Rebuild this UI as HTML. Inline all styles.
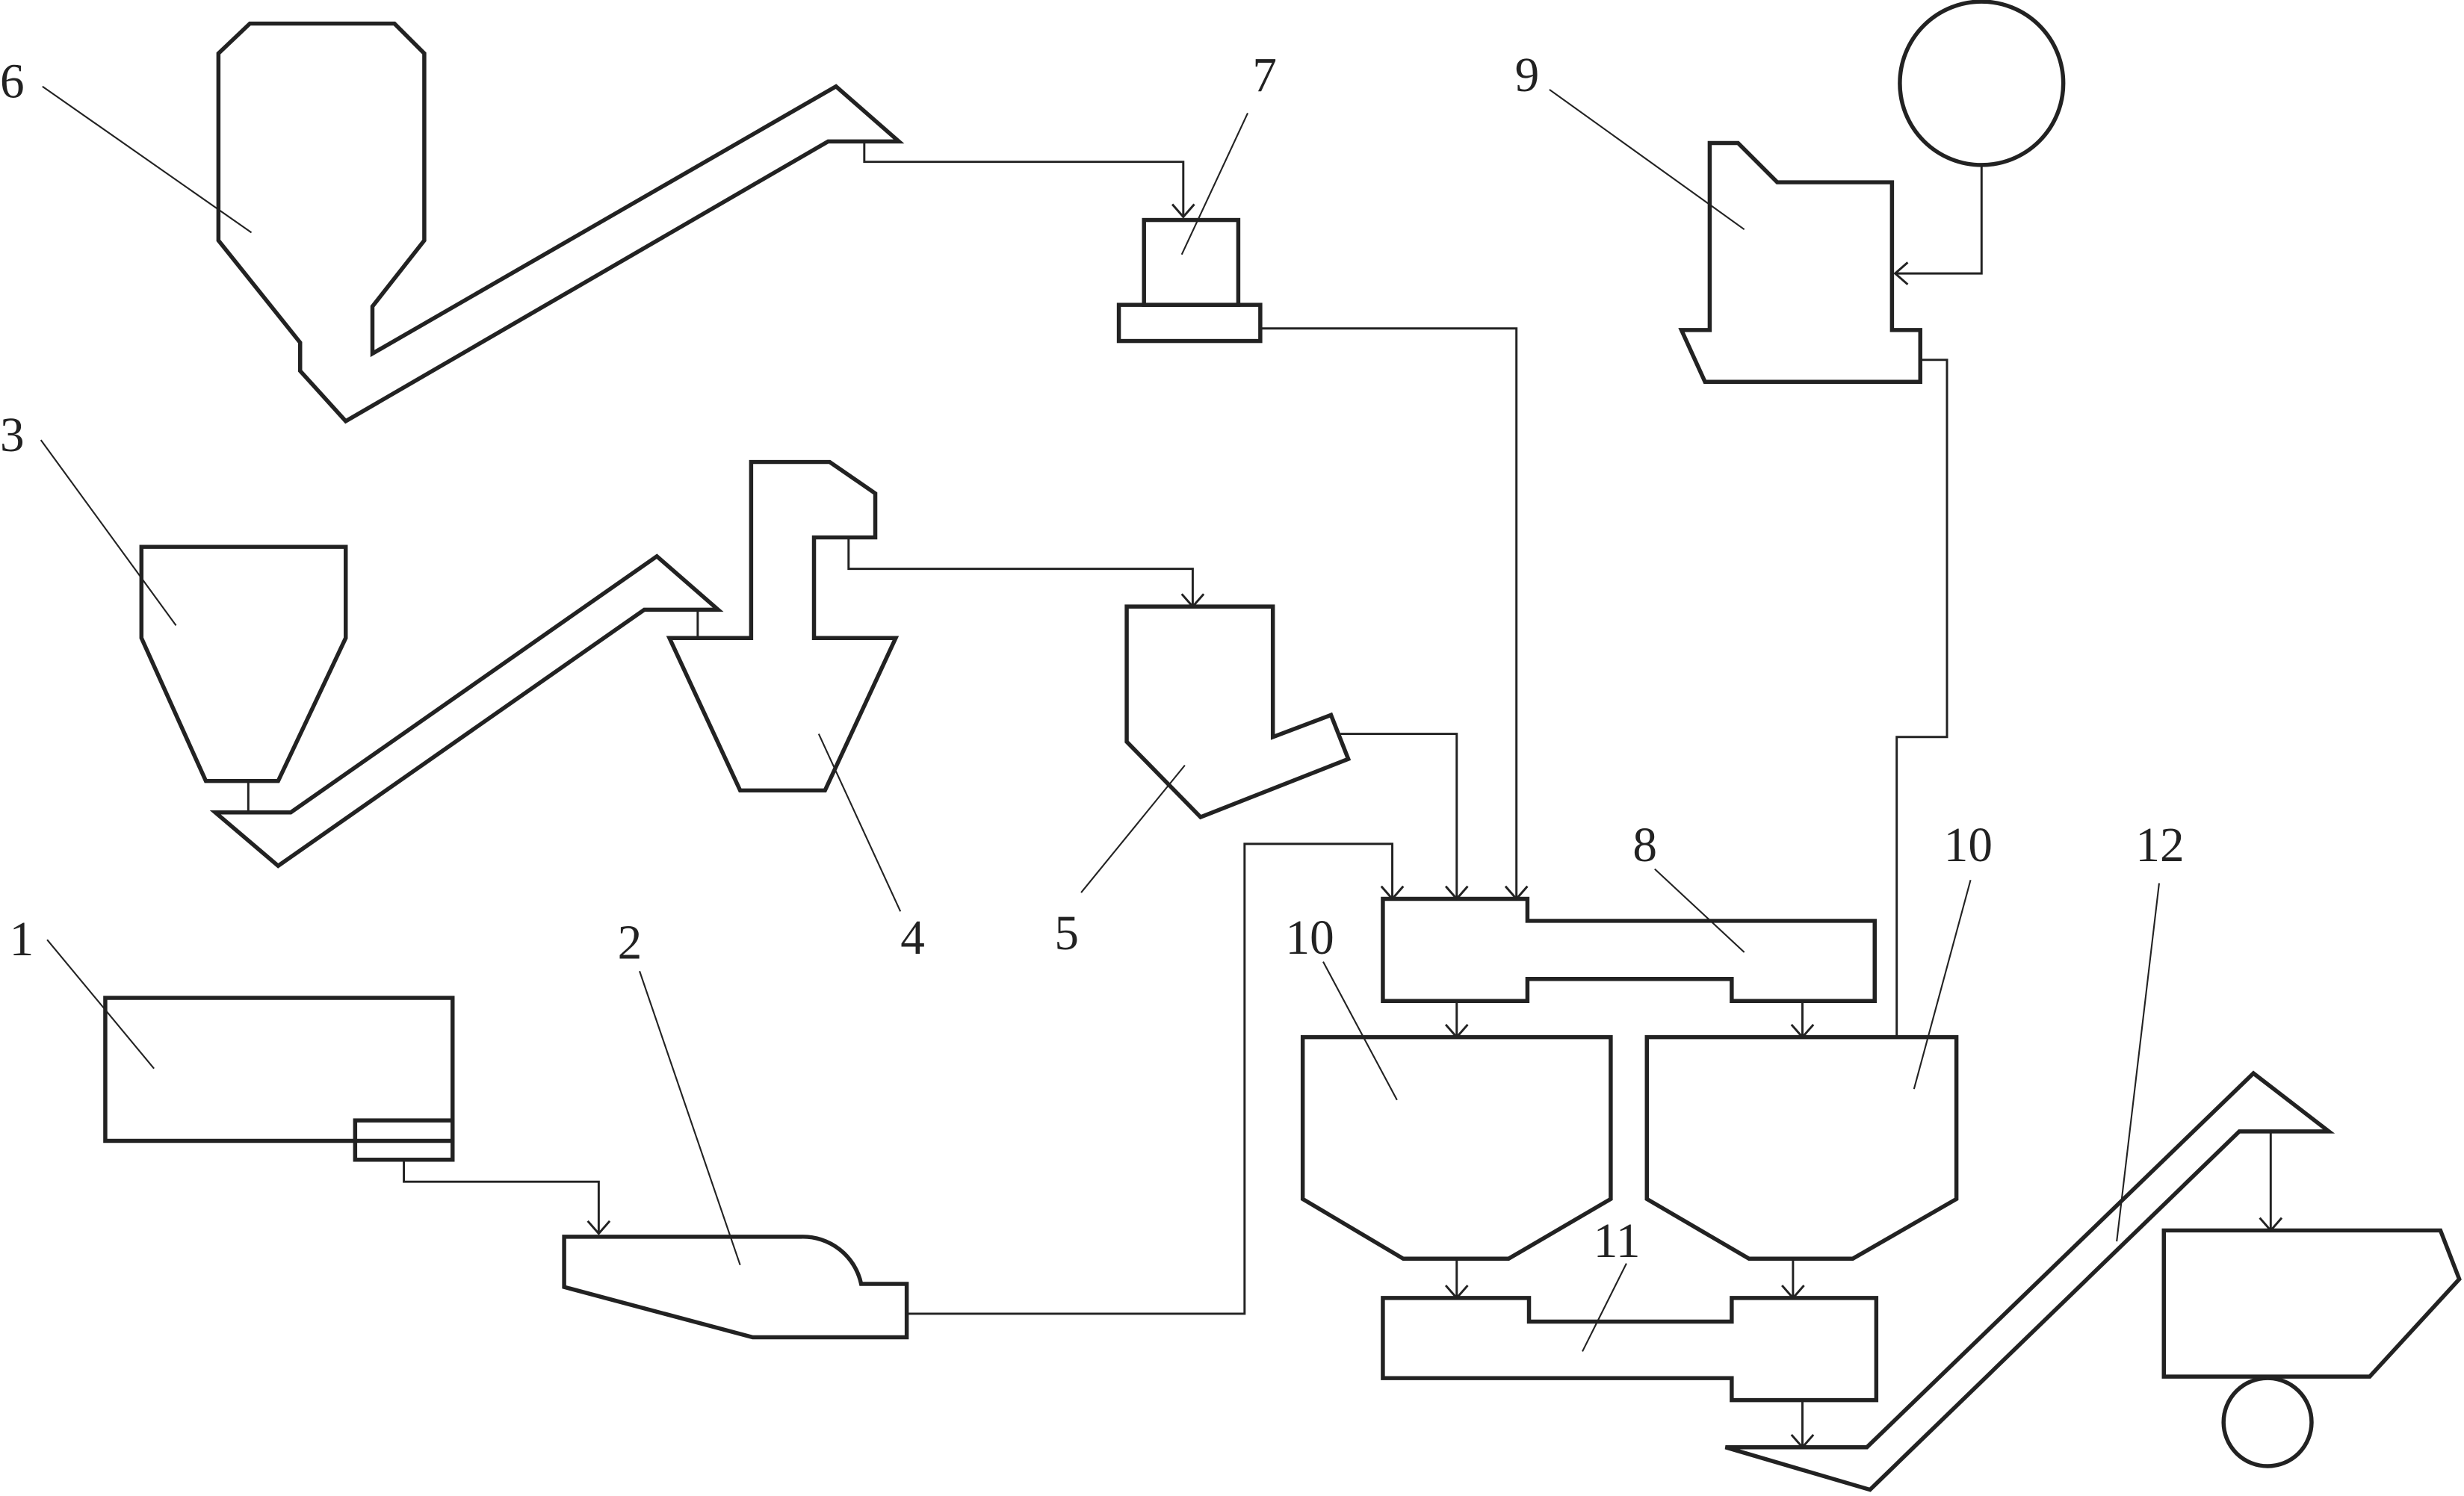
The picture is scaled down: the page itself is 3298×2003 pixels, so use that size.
<!DOCTYPE html>
<html><head><meta charset="utf-8"><style>
html,body{margin:0;padding:0;background:#fff;}
svg{display:block;}
text{font-family:"Liberation Serif",serif;font-size:31px;fill:#222;}
</style></head><body>
<svg width="3298" height="2003" viewBox="0 0 1568 952" preserveAspectRatio="none" xmlns="http://www.w3.org/2000/svg">
<defs>
<marker id="a" markerWidth="20" markerHeight="20" refX="10" refY="10" orient="auto" markerUnits="userSpaceOnUse">
<path d="M2,3 L10,10 L2,17" fill="none" stroke="#222" stroke-width="1.4"/>
</marker>
</defs>
<g fill="none" stroke="#222" stroke-width="2.6" stroke-linejoin="miter">
<!-- 6 -->
<polygon points="159,15 251,15 270,34 270,153 237,195 237,225 532,55 572,90 527,90 220,268 191,236 191,218 139,153 139,34"/>
<!-- 7 -->
<rect x="728" y="140" width="60" height="54"/>
<rect x="712" y="194" width="90" height="23"/>
<!-- 9 -->
<polygon points="1088,91 1106,91 1131,116 1204,116 1204,210 1222,210 1222,243 1085,243 1070,210 1088,210"/>
<circle cx="1261" cy="53" r="52"/>
<!-- 3 -->
<polygon points="90,348 220,348 220,406 177,497 131,497 90,406"/>
<polygon points="137,517 185,517 418,354 457,388 410,388 177,551"/>
<!-- 4 -->
<polygon points="478,294 528,294 557,314 557,342 518,342 518,406 570,406 525,503 471,503 426,406 478,406"/>
<!-- 5 -->
<polygon points="717,386 810,386 810,469 847,455 858,483 764,520 717,472"/>
<!-- 1 -->
<rect x="67" y="635" width="221" height="91"/>
<rect x="226" y="713" width="62" height="25"/>
<!-- 2 -->
<path d="M359,787 L510,787 A38,38 0 0 1 548,817 L577,817 L577,851 L479,851 L359,819 Z"/>
<!-- 8 -->
<polygon points="880,572 972,572 972,586 1193,586 1193,637 1102,637 1102,623 972,623 972,637 880,637"/>
<!-- 10 -->
<polygon points="829,660 1025,660 1025,763 960,801 893,801 829,763"/>
<polygon points="1048,660 1245,660 1245,763 1179,801 1113,801 1048,763"/>
<!-- 11 -->
<polygon points="880,826 973,826 973,841 1102,841 1102,826 1194,826 1194,891 1102,891 1102,877 880,877"/>
<!-- 12 -->
<polygon points="1098,921 1188,921 1434,683 1482,720 1425,720 1190,948"/>
<polygon points="1377,783 1553,783 1565,814 1508,876 1377,876"/>
<circle cx="1443" cy="905" r="28"/>
</g>
<g fill="none" stroke="#222" stroke-width="1.4">
<polyline points="550,90 550,103 753,103 753,138" marker-end="url(#a)"/>
<polyline points="802,209 965,209 965,572" marker-end="url(#a)"/>
<polyline points="1261,105 1261,174 1206,174" marker-end="url(#a)"/>
<polyline points="1222,229 1239,229 1239,469 1207,469 1207,660"/>
<line x1="158" y1="497" x2="158" y2="517"/>
<line x1="444" y1="388" x2="444" y2="406"/>
<polyline points="540,342 540,362 759,362 759,386" marker-end="url(#a)"/>
<polyline points="853,467 927,467 927,572" marker-end="url(#a)"/>
<polyline points="257,738 257,752 381,752 381,785" marker-end="url(#a)"/>
<polyline points="577,836 792,836 792,537 886,537 886,572" marker-end="url(#a)"/>
<line x1="927" y1="637" x2="927" y2="660" marker-end="url(#a)"/>
<line x1="1147" y1="637" x2="1147" y2="660" marker-end="url(#a)"/>
<line x1="927" y1="801" x2="927" y2="826" marker-end="url(#a)"/>
<line x1="1141" y1="801" x2="1141" y2="826" marker-end="url(#a)"/>
<line x1="1147" y1="891" x2="1147" y2="921" marker-end="url(#a)"/>
<line x1="1445" y1="720" x2="1445" y2="783" marker-end="url(#a)"/>
</g>
<g stroke="#222" stroke-width="1">
<line x1="27" y1="55" x2="160" y2="148"/>
<line x1="26" y1="280" x2="112" y2="398"/>
<line x1="30" y1="598" x2="98" y2="680"/>
<line x1="407" y1="618" x2="471" y2="805"/>
<line x1="573" y1="580" x2="521" y2="467"/>
<line x1="688" y1="568" x2="754" y2="487"/>
<line x1="794" y1="72" x2="752" y2="162"/>
<line x1="986" y1="57" x2="1110" y2="146"/>
<line x1="1053" y1="553" x2="1110" y2="606"/>
<line x1="842" y1="612" x2="889" y2="700"/>
<line x1="1254" y1="560" x2="1218" y2="693"/>
<line x1="1035" y1="804" x2="1007" y2="860"/>
<line x1="1374" y1="562" x2="1347" y2="790"/>
</g>
<text x="0" y="62">6</text>
<text x="0" y="287">3</text>
<text x="6" y="608">1</text>
<text x="393" y="610">2</text>
<text x="573" y="607">4</text>
<text x="671" y="604">5</text>
<text x="797" y="58">7</text>
<text x="964" y="58">9</text>
<text x="1039" y="548">8</text>
<text x="818" y="607">10</text>
<text x="1237" y="548">10</text>
<text x="1014" y="800">11</text>
<text x="1359" y="548">12</text>
</svg>
</body></html>
